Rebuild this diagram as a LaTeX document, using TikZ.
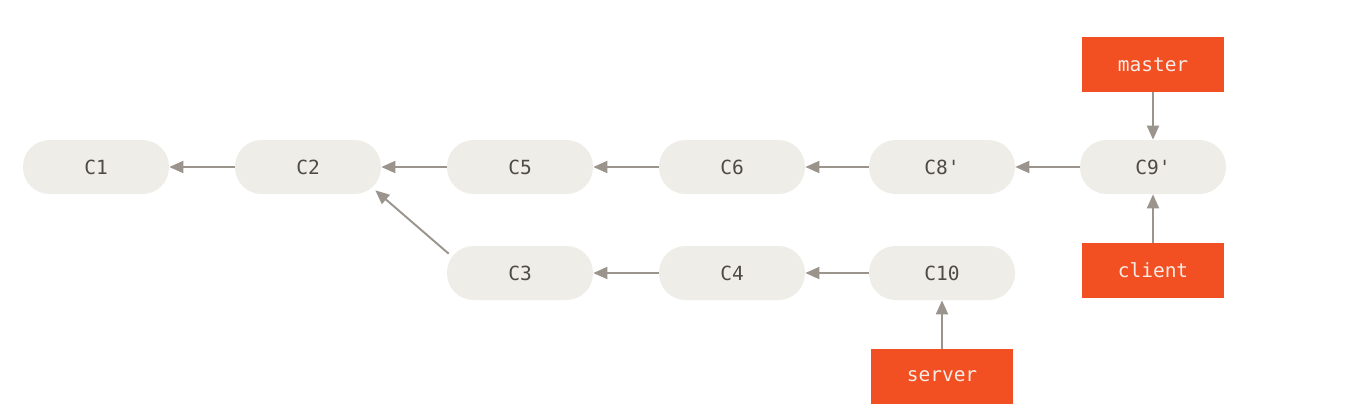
\documentclass[tikz,border=0pt]{standalone}
\usepackage{fontspec}
\setmonofont{DejaVu Sans Mono}
\usepackage{tikz}
\usetikzlibrary{arrows.meta}
\definecolor{commitfill}{HTML}{EEEDE7}
\definecolor{committext}{HTML}{4E4A45}
\definecolor{linkgray}{HTML}{9A948D}
\definecolor{branchfill}{HTML}{F24F23}
\definecolor{branchtext}{HTML}{F8EDE6}

\begin{document}
\begin{tikzpicture}[x=0.02cm,y=-0.02cm,
  commit/.style={rectangle,rounded corners=0.53cm,fill=commitfill,
    minimum width=2.92cm,minimum height=1.08cm,inner sep=0pt,
    font=\ttfamily\fontsize{11.1}{13}\selectfont,text=committext},
  branch/.style={rectangle,fill=branchfill,minimum width=2.84cm,
    minimum height=1.1cm,inner sep=0pt,
    font=\ttfamily\fontsize{11.1}{13}\selectfont,text=branchtext},
  link/.style={draw=linkgray,line width=1.1pt,
    -{Triangle[length=0.28cm,width=0.24cm]}}]
\useasboundingbox (0,0) rectangle (1365,417);
% main line
\node[commit] (c1) at (96,167) {C1};
\node[commit] (c2) at (308,167) {C2};
\node[commit] (c5) at (520,167) {C5};
\node[commit] (c6) at (732,167) {C6};
\node[commit] (c8) at (942,167) {C8'};
\node[commit] (c9) at (1153,167) {C9'};
% side line
\node[commit] (c3) at (520,273) {C3};
\node[commit] (c4) at (732,273) {C4};
\node[commit] (c10) at (942,273) {C10};
% branches
\node[branch] (master) at (1153,64.5) {master};
\node[branch] (client) at (1153,270.5) {client};
\node[branch] (server) at (942,376.5) {server};

\draw[link] (c2) -- (c1);
\draw[link] (c5) -- (c2);
\draw[link] (c6) -- (c5);
\draw[link] (c8) -- (c6);
\draw[link] (c9) -- (c8);
\draw[link] (c4) -- (c3);
\draw[link] (c10) -- (c4);
\draw[link] ([shift={(2,8)}]c3.north west) -- ([shift={(-6,-4)}]c2.south east);
\draw[link] (master) -- (c9);
\draw[link] (client) -- (c9);
\draw[link] (server) -- (c10);
\end{tikzpicture}
\end{document}
